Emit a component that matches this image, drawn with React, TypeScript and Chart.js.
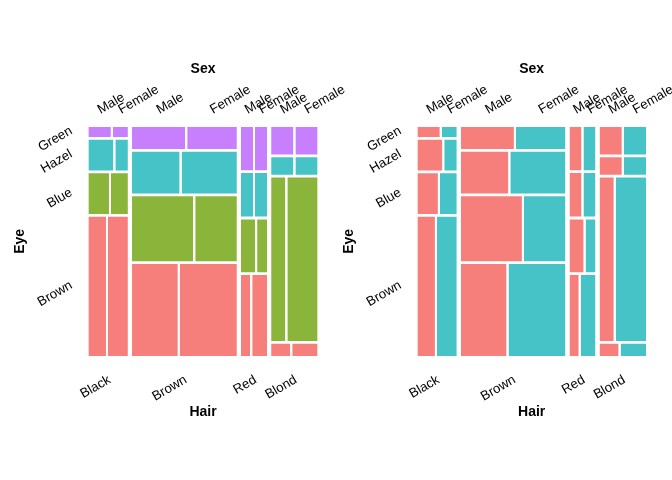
import React, { useEffect, useRef } from "react";
import { Chart, registerables } from "chart.js";

Chart.register(...registerables);

// ---- data (HairEyeColor) ----
const hairLevels = ["Black", "Brown", "Red", "Blond"];
const eyeLevels = ["Brown", "Blue", "Hazel", "Green"]; // bottom to top
const sexLevels = ["Male", "Female"];

// counts indexed [hair][eye]
const maleCounts = [
  [32, 11, 10, 3],
  [53, 50, 25, 15],
  [10, 10, 7, 7],
  [3, 30, 5, 8],
];
const femaleCounts = [
  [36, 9, 5, 2],
  [66, 34, 29, 14],
  [16, 7, 7, 7],
  [4, 64, 5, 8],
];

const eyeColors = ["#F77F7B", "#8BB43A", "#46C3C6", "#C77FFD"];
const sexColors = ["#F77F7B", "#46C3C6"];

const FAMILY = "'Liberation Sans', Arial, Helvetica, sans-serif";
const HAIR_GAP = 0.018;
const EYE_GAP = 0.012;
const SEX_GAP = 0.0087;

type Tile = { h: number; e: number; s: number; x0: number; x1: number; y0: number; y1: number };

function buildTiles() {
  const hairTotals = hairLevels.map((_, h) =>
    eyeLevels.reduce((a, _e, e) => a + maleCounts[h][e] + femaleCounts[h][e], 0)
  );
  const grand = hairTotals.reduce((a, b) => a + b, 0);
  const usableX = 1 - HAIR_GAP * (hairLevels.length - 1);
  const tiles: Tile[] = [];
  const hairCenters: number[] = [];
  const topCenters: number[] = [];
  const leftCenters: number[] = [];
  let x = 0;
  hairLevels.forEach((_, h) => {
    const w = (hairTotals[h] / grand) * usableX;
    const x0 = x;
    const x1 = x + w;
    hairCenters.push((x0 + x1) / 2);
    const usableY = 1 - EYE_GAP * (eyeLevels.length - 1);
    let y = 0;
    eyeLevels.forEach((_e, e) => {
      const m = maleCounts[h][e];
      const f = femaleCounts[h][e];
      const ht = ((m + f) / hairTotals[h]) * usableY;
      const y0 = y;
      const y1 = y + ht;
      const cellW = w - SEX_GAP;
      const xm = x0 + (m / (m + f)) * cellW;
      tiles.push({ h, e, s: 0, x0, x1: xm, y0, y1 });
      tiles.push({ h, e, s: 1, x0: xm + SEX_GAP, x1, y0, y1 });
      if (e === eyeLevels.length - 1) {
        topCenters.push((x0 + xm) / 2, (xm + SEX_GAP + x1) / 2);
      }
      if (h === 0) leftCenters.push((y0 + y1) / 2);
      y = y1 + EYE_GAP;
    });
    x = x1 + HAIR_GAP;
  });
  return { tiles, hairCenters, topCenters, leftCenters };
}

const yLabelPlugin = {
  id: "yRotLabels",
  afterDraw(chart: any) {
    const s = chart.scales.y;
    const ctx = chart.ctx;
    ctx.save();
    ctx.font = `13.3px ${FAMILY}`;
    ctx.fillStyle = "#000";
    ctx.textAlign = "right";
    ctx.textBaseline = "middle";
    s.ticks.forEach((t: any, i: number) => {
      const py = s.getPixelForValue(t.value);
      ctx.save();
      ctx.translate(chart.chartArea.left - 17, py - 2);
      ctx.rotate(-Math.PI / 6);
      ctx.fillText(eyeLevels[i], 0, 0);
      ctx.restore();
    });
    ctx.restore();
  },
};

function makeConfig(mode: "eye" | "sex", padRight: number): any {
  const { tiles, hairCenters, topCenters, leftCenters } = buildTiles();
  const datasets = tiles.map((t) => ({
    data: [
      { x: t.x0, y: t.y1 },
      { x: t.x1, y: t.y1 },
    ],
    fill: { value: t.y0 },
    backgroundColor: mode === "eye" ? eyeColors[t.e] : sexColors[t.s],
    borderColor: "rgba(0,0,0,0)",
    borderWidth: 0,
    pointRadius: 0,
    tension: 0,
  }));
  const tickFont = { size: 13.3, family: FAMILY };
  const titleFont = { size: 14, weight: "bold", family: FAMILY };
  return {
    type: "line",
    data: { datasets },
    options: {
      animation: false,
      responsive: false,
      events: [],
      layout: { padding: { left: 0, top: 0, bottom: 0, right: padRight } },
      plugins: { legend: { display: false }, tooltip: { enabled: false } },
      scales: {
        x: {
          type: "linear",
          position: "bottom",
          min: 0,
          max: 1,
          grid: { display: false, drawTicks: false },
          border: { display: false },
          afterBuildTicks: (s: any) => {
            s.ticks = hairCenters.map((v) => ({ value: v }));
          },
          afterFit: (s: any) => {
            s.height = 124;
            s.paddingLeft = 0;
            s.paddingRight = 0;
          },
          ticks: {
            autoSkip: false,
            minRotation: 30,
            maxRotation: 30,
            padding: 16,
            labelOffset: 1.5,
            color: "#000",
            font: tickFont,
            callback: (_v: any, i: number) => hairLevels[i],
          },
          title: {
            display: true,
            text: "Hair",
            color: "#000",
            font: titleFont,
            padding: { top: 0, bottom: 59 },
          },
        },
        x2: {
          type: "linear",
          position: "top",
          min: 0,
          max: 1,
          grid: { display: false, drawTicks: false },
          border: { display: false },
          afterBuildTicks: (s: any) => {
            s.ticks = topCenters.map((v) => ({ value: v }));
          },
          afterFit: (s: any) => {
            s.height = 126.7;
            s.paddingLeft = 0;
            s.paddingRight = 0;
          },
          ticks: {
            autoSkip: false,
            minRotation: 30,
            maxRotation: 30,
            padding: 9,
            labelOffset: 7,
            color: "#000",
            font: tickFont,
            callback: (_v: any, i: number) => sexLevels[i % 2],
          },
          title: {
            display: true,
            text: "Sex",
            color: "#000",
            font: titleFont,
            padding: { top: 61, bottom: 0 },
          },
        },
        y: {
          type: "linear",
          position: "left",
          min: 0,
          max: 1,
          grid: { display: false, drawTicks: false },
          border: { display: false },
          afterBuildTicks: (s: any) => {
            s.ticks = leftCenters.map((v) => ({ value: v }));
          },
          afterFit: (s: any) => {
            s.width = 88.3;
          },
          ticks: { display: false },
          title: {
            display: true,
            text: "Eye",
            color: "#000",
            font: titleFont,
            padding: { top: 12, bottom: 0 },
          },
        },
      },
    },
    plugins: [yLabelPlugin],
  };
}

function MosaicCanvas(props: { mode: "eye" | "sex"; left: number; width: number; padRight: number }) {
  const ref = useRef<HTMLCanvasElement | null>(null);
  useEffect(() => {
    if (!ref.current) return;
    const chart = new Chart(ref.current, makeConfig(props.mode, props.padRight));
    return () => chart.destroy();
  }, [props.mode, props.padRight]);
  return (
    <canvas
      ref={ref}
      width={props.width}
      height={480}
      style={{ position: "absolute", left: props.left, top: 0, width: props.width, height: 480 }}
    />
  );
}

export default function App() {
  return (
    <div style={{ position: "absolute", left: 0, top: 0, width: 672, height: 480, background: "#fff", overflow: "hidden" }}>
      <MosaicCanvas mode="eye" left={0} width={672} padRight={672 - 317.7} />
      <MosaicCanvas mode="sex" left={329} width={343} padRight={26} />
    </div>
  );
}
